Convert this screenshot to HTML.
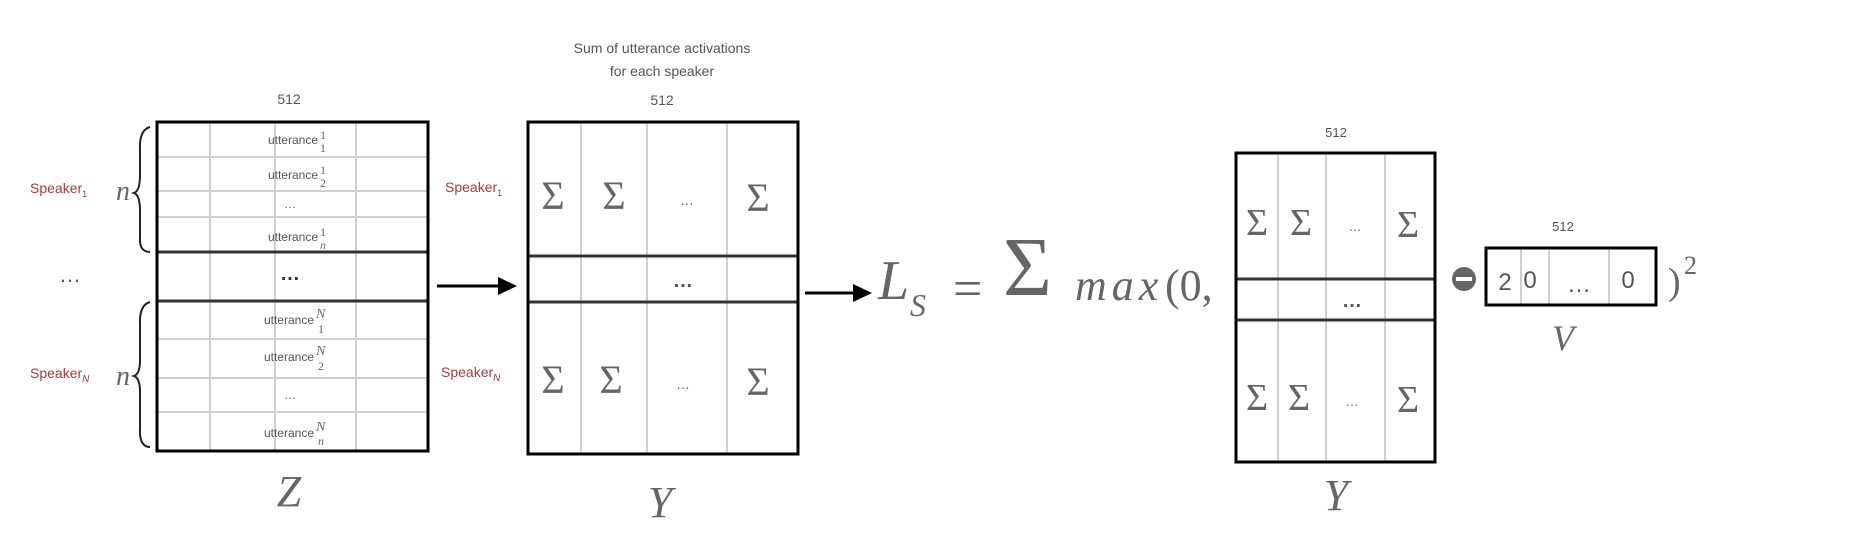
<!DOCTYPE html>
<html><head><meta charset="utf-8"><style>
html,body{margin:0;padding:0;background:#fff;}
svg{display:block}
.s{font-family:"Liberation Sans",sans-serif;fill:#555}
.r{font-family:"Liberation Sans",sans-serif;fill:#a83a3a;font-size:14px}
.m{font-family:"Liberation Serif",serif;fill:#666}
.g{stroke:#d0d0d0;stroke-width:2}
.k{stroke:#333;stroke-width:3}
</style></head><body>
<svg width="1870" height="542" viewBox="0 0 1870 542" xmlns="http://www.w3.org/2000/svg">
<!-- Z matrix -->
<text x="289" y="104" class="s" font-size="14" text-anchor="middle">512</text>
<g>
<line x1="210" y1="121" x2="210" y2="452" class="g"/>
<line x1="275" y1="121" x2="275" y2="452" class="g"/>
<line x1="356" y1="121" x2="356" y2="452" class="g"/>
<line x1="156" y1="157" x2="429" y2="157" class="g"/>
<line x1="156" y1="191" x2="429" y2="191" class="g"/>
<line x1="156" y1="217" x2="429" y2="217" class="g"/>
<line x1="156" y1="339" x2="429" y2="339" class="g"/>
<line x1="156" y1="378" x2="429" y2="378" class="g"/>
<line x1="156" y1="412" x2="429" y2="412" class="g"/>
<line x1="156" y1="252" x2="429" y2="252" class="k"/>
<line x1="156" y1="301" x2="429" y2="301" class="k"/>
<rect x="157" y="122" width="271" height="329" fill="none" stroke="#000" stroke-width="3"/>
</g>
<g class="s" font-size="12" fill="#666">
<text x="318" y="144" text-anchor="end">utterance</text><text x="320" y="139" class="m" font-size="12">1</text><text x="320" y="152" class="m" font-size="12">1</text>
<text x="318" y="179" text-anchor="end">utterance</text><text x="320" y="174" class="m" font-size="12">1</text><text x="320" y="187" class="m" font-size="12">2</text>
<text x="290" y="208" text-anchor="middle">…</text>
<text x="318" y="241" text-anchor="end">utterance</text><text x="320" y="236" class="m" font-size="12">1</text><text x="320" y="249" class="m" font-size="12" font-style="italic">n</text>
<text x="290" y="280" text-anchor="middle" font-size="20" fill="#333" font-weight="bold">…</text>
<text x="314" y="324" text-anchor="end">utterance</text><text x="316" y="318" class="m" font-size="14" font-style="italic">N</text><text x="318" y="333" class="m" font-size="12">1</text>
<text x="314" y="361" text-anchor="end">utterance</text><text x="316" y="355" class="m" font-size="14" font-style="italic">N</text><text x="318" y="370" class="m" font-size="12">2</text>
<text x="290" y="399" text-anchor="middle">…</text>
<text x="314" y="437" text-anchor="end">utterance</text><text x="316" y="431" class="m" font-size="14" font-style="italic">N</text><text x="318" y="445" class="m" font-size="12" font-style="italic">n</text>
</g>
<!-- left labels -->
<text x="30" y="193" class="r">Speaker<tspan font-size="9" dy="4">1</tspan></text>
<text x="30" y="378" class="r">Speaker<tspan font-size="10" dy="4" font-style="italic">N</tspan></text>
<text x="116" y="200" class="m" font-size="28" font-style="italic">n</text>
<text x="116" y="385" class="m" font-size="28" font-style="italic">n</text>
<text x="70" y="282" class="s" font-size="22" text-anchor="middle" fill="#444">…</text>
<path d="M150 127 Q139 130 140 150 L140 175 Q140 191 134 193 Q140 195 140 211 L140 237 Q139 252 150 252" fill="none" stroke="#222" stroke-width="2"/>
<path d="M150 302 Q139 305 140 325 L140 360 Q140 374 134 376 Q140 378 140 392 L140 428 Q139 447 150 447" fill="none" stroke="#222" stroke-width="2"/>
<text x="289" y="506" class="m" font-size="44" font-style="italic" text-anchor="middle">Z</text>
<!-- arrow 1 -->
<line x1="437" y1="286" x2="500" y2="286" stroke="#000" stroke-width="3"/>
<polygon points="498,277 517,286 498,295" fill="#000"/>
<!-- Y matrix 1 -->
<text x="662" y="53" class="s" font-size="14" text-anchor="middle" fill="#666">Sum of utterance activations</text>
<text x="662" y="76" class="s" font-size="14" text-anchor="middle" fill="#666">for each speaker</text>
<text x="662" y="105" class="s" font-size="14" text-anchor="middle">512</text>
<line x1="581" y1="121" x2="581" y2="455" class="g"/>
<line x1="647" y1="121" x2="647" y2="455" class="g"/>
<line x1="727" y1="121" x2="727" y2="455" class="g"/>
<line x1="527" y1="256" x2="799" y2="256" class="k"/>
<line x1="527" y1="302" x2="799" y2="302" class="k"/>
<rect x="528" y="122" width="270" height="332" fill="none" stroke="#000" stroke-width="3"/>
<g class="m" font-size="40" text-anchor="middle">
<text x="553" y="209">Σ</text><text x="614" y="209">Σ</text><text x="758" y="211">Σ</text>
<text x="553" y="393">Σ</text><text x="611" y="393">Σ</text><text x="758" y="395">Σ</text>
</g>
<text x="687" y="205" class="s" font-size="14" text-anchor="middle" fill="#aaa">…</text>
<text x="683" y="389" class="s" font-size="14" text-anchor="middle" fill="#aaa">…</text>
<text x="683" y="287" class="s" font-size="20" text-anchor="middle" fill="#333" font-weight="bold">…</text>
<text x="445" y="192" class="r">Speaker<tspan font-size="9" dy="4">1</tspan></text>
<text x="441" y="377" class="r">Speaker<tspan font-size="10" dy="4" font-style="italic">N</tspan></text>
<text x="660" y="517" class="m" font-size="44" font-style="italic" text-anchor="middle">Y</text>
<!-- arrow 2 -->
<line x1="805" y1="293" x2="855" y2="293" stroke="#000" stroke-width="3"/>
<polygon points="853,284 872,293 853,302" fill="#000"/>
<!-- formula -->
<text x="878" y="299" class="m" font-size="56" font-style="italic">L</text>
<text x="910" y="316" class="m" font-size="32" font-style="italic">S</text>
<text x="953" y="306" class="m" font-size="52">=</text>
<text x="1003" y="295" class="m" font-size="84">Σ</text>
<text x="1075" y="300" class="m" font-size="44" font-style="italic" letter-spacing="5">max</text>
<text x="1165" y="300" class="m" font-size="44">(0,</text>
<!-- Y matrix 2 -->
<text x="1336" y="137" class="s" font-size="13" text-anchor="middle">512</text>
<line x1="1278" y1="152" x2="1278" y2="463" class="g"/>
<line x1="1326" y1="152" x2="1326" y2="463" class="g"/>
<line x1="1385" y1="152" x2="1385" y2="463" class="g"/>
<line x1="1235" y1="279" x2="1436" y2="279" class="k"/>
<line x1="1235" y1="320" x2="1436" y2="320" class="k"/>
<rect x="1236" y="153" width="199" height="309" fill="none" stroke="#000" stroke-width="3"/>
<g class="m" font-size="38" text-anchor="middle">
<text x="1257" y="235">Σ</text><text x="1301" y="235">Σ</text><text x="1408" y="237">Σ</text>
<text x="1257" y="410">Σ</text><text x="1299" y="410">Σ</text><text x="1408" y="412">Σ</text>
</g>
<text x="1355" y="231" class="s" font-size="13" text-anchor="middle" fill="#aaa">…</text>
<text x="1352" y="406" class="s" font-size="13" text-anchor="middle" fill="#aaa">…</text>
<text x="1352" y="307" class="s" font-size="20" text-anchor="middle" fill="#333" font-weight="bold">…</text>
<text x="1336" y="510" class="m" font-size="44" font-style="italic" text-anchor="middle">Y</text>
<!-- minus -->
<circle cx="1464" cy="279" r="12" fill="#666"/>
<rect x="1456" y="277" width="16" height="4" fill="#fff"/>
<!-- V -->
<text x="1563" y="231" class="s" font-size="13" text-anchor="middle">512</text>
<line x1="1521" y1="248" x2="1521" y2="305" class="g"/>
<line x1="1549" y1="248" x2="1549" y2="305" class="g"/>
<line x1="1609" y1="248" x2="1609" y2="305" class="g"/>
<rect x="1486" y="248" width="170" height="57" fill="none" stroke="#000" stroke-width="3"/>
<g class="s" font-size="24" fill="#666" text-anchor="middle">
<text x="1505" y="290">2</text><text x="1530" y="288">0</text><text x="1579" y="292">…</text><text x="1628" y="288">0</text>
</g>
<text x="1563" y="350" class="m" font-size="36" font-style="italic" text-anchor="middle">V</text>
<text x="1668" y="294" class="m" font-size="38">)</text>
<text x="1684" y="274" class="m" font-size="26">2</text>
</svg>
</body></html>
